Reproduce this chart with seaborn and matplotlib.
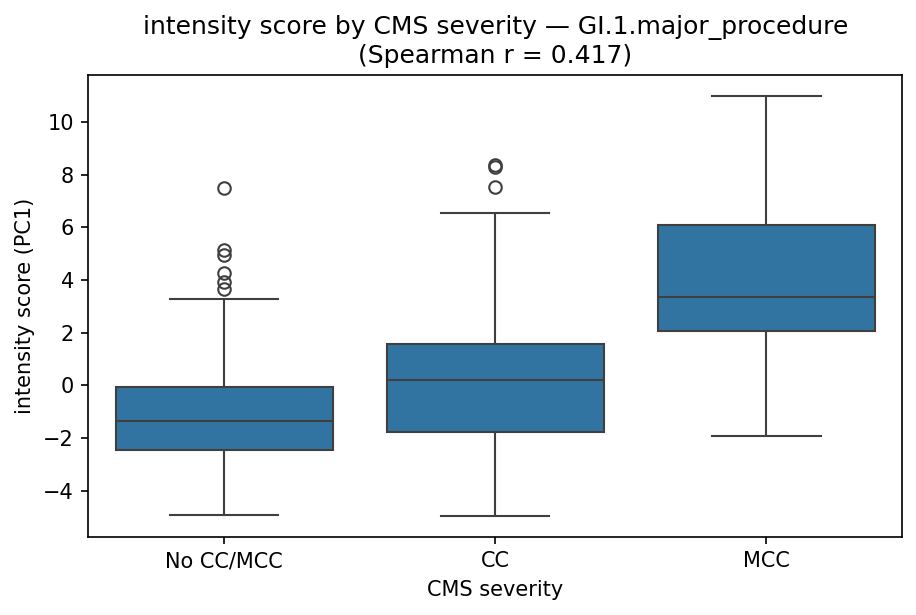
import matplotlib
matplotlib.use("Agg")
import matplotlib.pyplot as plt
import seaborn as sns
import pandas as pd

categories = ["No CC/MCC", "CC", "MCC"]

# Values (quartiles, whisker ends and outliers land on the drawn marks)
no_cc_mcc = [-4.90, -4.30, -3.80, -3.30, -2.95, -2.70, -2.55,
             -2.46,
             -2.30, -2.10, -1.90, -1.70, -1.55, -1.42,
             -1.34,
             -1.20, -1.00, -0.80, -0.55, -0.30, -0.15,
             -0.04,
             3.28, 3.65, 3.94, 4.26, 4.95, 5.14, 7.48]
cc = [-4.94, -4.00, -3.10, -2.50, -2.00,
      -1.78,
      -1.40, -1.00, -0.60, -0.10,
      0.19,
      0.50, 0.80, 1.10, 1.40,
      1.58,
      3.20, 6.55, 7.54, 8.28, 8.36]
mcc = [-1.93, 0.50, 2.08, 2.80, 3.36, 4.60, 6.09, 8.50, 10.98]

series = {"No CC/MCC": no_cc_mcc, "CC": cc, "MCC": mcc}
rows = [(cat, v) for cat in categories for v in series[cat]]
df = pd.DataFrame(rows, columns=["CMS severity", "intensity score (PC1)"])

fig, ax = plt.subplots(figsize=(6.113, 4.1), dpi=150)
sns.boxplot(data=df, x="CMS severity", y="intensity score (PC1)",
            order=categories, ax=ax)
ax.set_title("intensity score by CMS severity \u2014 GI.1.major_procedure\n(Spearman r = 0.417)")
ax.set_yticks([-4, -2, 0, 2, 4, 6, 8, 10])
fig.subplots_adjust(left=0.0965, right=0.9837, top=0.878, bottom=0.1273)
fig.savefig("out.png", dpi=150)
